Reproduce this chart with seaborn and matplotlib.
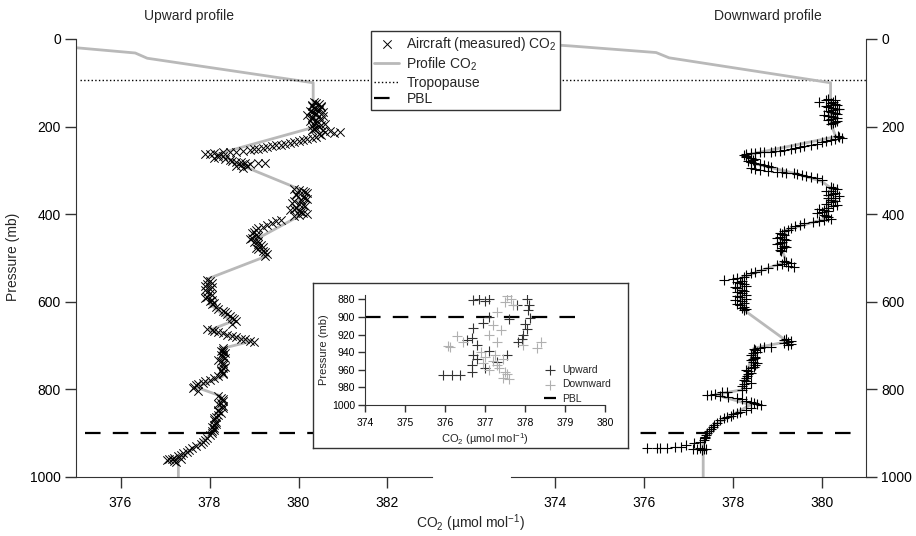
## Aircraft CO2 profiles: upward and downward legs with PBL inset

import numpy as np
import seaborn as sns
import matplotlib.pyplot as plt

## Data
# upward leg, measured CO2 (x markers)
up_co2 = [380.35, 380.45, 380.3, 380.5, 380.4, 380.25, 380.55, 380.35, 380.2, 380.45, 380.3, 380.5,
          380.25, 380.4, 380.6, 380.3, 380.45, 380.35, 380.55, 380.7, 380.93, 380.8,
          380.5, 380.3, 380.1, 379.9, 379.7, 379.5, 379.3, 379.1, 378.9, 378.6, 378.3, 378.1, 377.9, 378.2,
          378.3, 378.1, 378.45, 378.6, 378.8, 379.1, 379.25, 378.7, 378.85, 378.75,
          379.9, 380.1, 380.2, 379.95, 380.15, 380.05, 379.85, 380.1, 379.95, 379.8, 380.05, 380.2, 379.9,
          379.6, 379.4, 379.2, 379.05, 378.95, 379.1, 378.9, 379.0, 379.15, 379.05, 379.2, 379.3, 379.25,
          377.95, 378.05, 377.9, 378.0, 377.95, 378.05, 377.9, 378.0, 378.05, 378.15, 378.3, 378.4, 378.5,
          378.6, 378.5, 377.95, 378.1, 378.3, 378.5, 378.7, 378.9, 379.0,
          378.3, 378.25, 378.35, 378.3, 378.2, 378.3, 378.35, 378.25, 378.3, 378.2, 378.0, 377.85, 377.7,
          377.63, 377.75, 378.2, 378.3, 378.25, 378.3, 378.2, 378.25, 378.15, 378.1, 378.15, 378.05, 378.1,
          378.05, 377.95, 377.85, 377.7, 377.55, 377.4, 377.3, 377.15, 377.05, 377.25, 377.35]
up_p = [145, 148, 152, 156, 160, 164, 167, 170, 174, 177, 181, 184,
        188, 191, 194, 198, 201, 205, 208, 211, 212, 215,
        220, 226, 231, 235, 239, 243, 247, 251, 254, 257, 259, 261, 262, 264,
        268, 272, 276, 280, 284, 283, 284, 288, 291, 295,
        342, 346, 352, 357, 362, 368, 374, 379, 385, 390, 395, 400, 405,
        413, 420, 429, 436, 443, 450, 457, 464, 471, 477, 484, 490, 495,
        550, 556, 563, 570, 578, 585, 592, 598, 605, 612, 620, 628, 636,
        645, 650, 662, 666, 672, 678, 684, 689, 692,
        706, 712, 718, 725, 732, 740, 748, 755, 763, 770, 779, 785, 791,
        797, 803, 816, 822, 830, 838, 846, 854, 862, 870, 878, 886, 893,
        900, 910, 920, 930, 938, 946, 953, 958, 962, 965, 960]
# second pass of the same leg (denser parts of the cloud)
up_co2_b = [380.4, 380.3, 380.5, 380.35, 380.45, 380.3, 380.4, 380.55, 380.3, 380.4, 380.35, 380.5,
            380.4, 380.3, 380.6, 380.45,
            380.4, 380.2, 380.0, 379.8, 379.6, 379.4, 379.2, 379.0, 378.75, 378.45, 378.0,
            378.2, 378.35, 378.5, 378.7, 378.9, 378.6,
            380.0, 380.15, 379.95, 380.1, 380.2, 379.9, 380.0, 380.15, 379.9, 380.0, 380.1, 380.0,
            379.5, 379.3, 379.1, 379.0, 379.05, 378.95, 379.1, 379.1, 379.2, 379.1, 379.25,
            378.0, 377.95, 378.05, 377.9, 378.0, 377.95, 378.05, 378.1, 378.2, 378.35, 378.45, 378.55,
            378.05, 378.2, 378.4, 378.6, 378.8,
            378.3, 378.3, 378.25, 378.35, 378.25, 378.3, 378.3, 378.25, 378.3, 378.1, 377.9, 377.75, 377.65,
            378.25, 378.3, 378.2, 378.3, 378.2, 378.2, 378.1, 378.15, 378.1, 378.1, 378.05, 378.0, 377.9,
            377.8, 377.6, 377.5, 377.35, 377.2, 377.1, 377.2]
up_p_b = [146, 150, 153, 158, 163, 166, 172, 175, 179, 186, 193, 196,
          203, 207, 213, 217,
          223, 228, 233, 237, 241, 245, 249, 252, 256, 258, 263,
          270, 274, 278, 282, 286, 290,
          344, 349, 354, 360, 365, 371, 376, 382, 388, 392, 398, 403,
          416, 425, 432, 440, 447, 454, 461, 468, 474, 480, 487,
          553, 560, 567, 574, 581, 589, 595, 602, 616, 624, 632, 640,
          664, 669, 675, 681, 686,
          709, 715, 721, 728, 736, 744, 751, 759, 766, 775, 782, 788, 794,
          819, 826, 834, 842, 850, 858, 866, 874, 882, 889, 896, 905, 915,
          925, 934, 942, 950, 956, 960, 963]

# downward leg, measured CO2 (+ markers)
down_co2 = [379.95, 380.15, 380.3, 380.2, 380.35, 380.1, 380.25, 380.4, 380.15, 380.3, 380.05, 380.2,
            380.35, 380.15, 380.3, 380.2,
            380.36, 380.45, 380.2, 380.0, 379.76, 379.5, 379.3, 379.05, 378.85, 378.6, 378.4, 378.25,
            378.3, 378.5, 378.35, 378.47, 378.7, 378.85, 378.4, 378.6, 379.0, 379.2, 379.37, 379.55,
            379.76, 380.0,
            380.2, 380.35, 380.1, 380.25, 380.4, 380.15, 380.3, 380.1, 380.25,
            379.95, 380.15, 379.9, 380.1, 380.2, 379.95, 379.6, 379.4, 379.23, 379.05, 379.15, 379.0,
            379.2, 379.05, 379.15, 379.1, 379.08,
            379.15, 379.3, 379.0, 379.37, 378.63, 378.4, 378.25, 378.0, 377.8,
            378.1, 378.25, 378.05, 378.2, 378.1, 378.3, 378.15, 378.05, 378.25, 378.15, 378.2, 378.25,
            379.2, 379.3, 379.15, 379.25,
            378.85, 378.6, 378.47, 378.55, 378.4, 378.5, 378.4, 378.55, 378.47, 378.3, 378.4, 378.32,
            378.25, 378.4, 378.2, 378.2,
            377.87, 377.6, 377.42, 377.7, 378.1, 378.3, 378.47, 378.63, 378.4, 378.17, 378.0, 377.87,
            377.7, 377.57, 377.5, 377.42, 377.38, 377.34, 377.12, 376.82, 376.52, 376.07, 376.3, 377.1,
            377.25, 377.4, 377.3]
down_p = [143, 137, 140, 146, 150, 153, 157, 161, 165, 169, 173, 177,
          181, 185, 189, 193,
          222, 226, 231, 236, 242, 247, 252, 255, 257, 259, 261, 265,
          269, 274, 279, 284, 288, 292, 295, 299, 303, 305, 306, 310,
          314, 322,
          338, 343, 348, 354, 359, 364, 370, 376, 382,
          388, 393, 398, 404, 410, 416, 421, 428, 436, 442, 448, 454,
          460, 466, 472, 478, 484,
          508, 512, 516, 520, 527, 535, 543, 547, 550,
          555, 560, 566, 572, 578, 584, 590, 596, 602, 608, 614, 619,
          686, 690, 694, 698,
          703, 705, 708, 715, 722, 728, 734, 740, 748, 755, 762, 770,
          778, 785, 792, 801,
          805, 810, 813, 815, 820, 826, 832, 836, 843, 851, 857, 862,
          871, 881, 890, 900, 908, 915, 923, 931, 934, 934, 933, 936,
          934, 937, 938]
down_co2_b = [380.1, 380.25, 380.3, 380.2, 380.15, 380.35, 380.25, 380.2, 380.35, 380.15, 380.25, 380.2,
              380.35, 380.25,
              380.4, 380.3, 380.1, 379.9, 379.6, 379.4, 379.15, 378.95, 378.7, 378.5, 378.3, 378.3,
              378.4, 378.45, 378.4, 378.6, 378.8, 378.5, 378.8, 379.1, 379.45, 379.65, 379.9,
              380.25, 380.2, 380.3, 380.15, 380.3, 380.2, 380.2, 380.35, 380.15,
              380.05, 380.0, 380.05, 380.15, 380.05, 379.8, 379.5, 379.3, 379.15, 379.1, 379.05, 379.15,
              379.1, 379.0, 379.2, 379.05,
              379.2, 379.1, 379.25, 378.8, 378.5, 378.3, 378.1,
              378.2, 378.15, 378.3, 378.1, 378.25, 378.2, 378.1, 378.3, 378.2, 378.1, 378.25, 378.3,
              379.15, 379.25, 379.3,
              378.7, 378.5, 378.45, 378.5, 378.45, 378.45, 378.5, 378.4, 378.35, 378.35, 378.3, 378.3,
              378.25, 378.3,
              377.75, 377.5, 377.9, 378.2, 378.4, 378.55, 378.3, 378.1, 377.95, 377.8, 377.65, 377.55,
              377.45, 377.4, 377.36, 377.25, 376.95, 376.7, 376.35, 377.2, 377.35]
down_p_b = [139, 143, 148, 151, 156, 159, 163, 167, 171, 175, 179, 183,
            187, 191,
            224, 229, 233, 239, 245, 250, 254, 256, 258, 260, 263, 267,
            272, 277, 282, 286, 290, 297, 301, 304, 308, 312, 318,
            340, 346, 351, 356, 362, 367, 373, 379, 385,
            390, 396, 401, 407, 413, 419, 424, 432, 439, 445, 451, 457,
            463, 469, 475, 481,
            510, 514, 518, 524, 531, 539, 545,
            552, 558, 563, 569, 575, 581, 587, 593, 599, 605, 611, 616,
            688, 692, 696,
            704, 711, 718, 725, 731, 737, 744, 751, 758, 766, 774, 781,
            788, 796,
            807, 812, 817, 823, 829, 834, 847, 854, 860, 866, 876, 885,
            895, 904, 912, 920, 927, 932, 934, 935, 936]

# profile CO2 (grey line)
up_prof_co2 = [372.0, 374.3, 375.0, 376.33, 376.6, 380.33, 380.33, 380.4, 378.2, 378.8, 380.0, 380.0,
               379.0, 379.3, 377.95, 378.0, 378.5, 378.0, 378.95, 378.3, 378.3, 377.7, 378.25, 378.2,
               378.05, 377.6, 377.3, 377.3]
up_prof_p = [0, 16, 20, 32, 44, 100, 150, 200, 262, 292, 342, 405,
             460, 495, 548, 605, 645, 665, 690, 706, 770, 795, 815, 860,
             900, 938, 960, 1000]
down_prof_co2 = [372.0, 374.35, 376.27, 376.56, 380.2, 380.2, 380.2, 380.32, 378.3, 378.5, 379.4, 380.0,
                 380.2, 380.1, 379.2, 379.1, 379.2, 378.2, 378.15, 378.25, 379.23, 378.47, 378.3, 378.2,
                 377.6, 378.4, 377.6, 377.33, 377.33]
down_prof_p = [0, 16, 31, 43, 100, 140, 193, 223, 265, 285, 307, 325,
               340, 410, 436, 480, 508, 545, 585, 619, 691, 706, 770, 801,
               812, 835, 880, 918, 1000]

# inset: lowest part of both legs
ins_up_co2 = [376.7, 376.85, 377.0, 377.1, 378.04, 378.1, 378.08, 378.12, 378.0, 378.06, 377.95, 377.92,
              377.83, 377.8, 377.6, 377.1, 376.95, 376.7, 376.67, 376.79, 376.7, 376.67, 376.67, 377.29,
              377.54, 377.1, 375.96, 376.17, 376.38, 376.54, 376.8, 377.0]
ins_up_p = [881, 880, 882, 880, 879, 886, 892, 901, 908, 914, 920, 925,
            928, 886, 902, 900, 907, 913, 924, 932, 943, 955, 962, 951,
            943, 939, 966, 966, 966, 926, 948, 958]
ins_down_co2 = [377.55, 377.65, 377.7, 377.5, 377.29, 377.2, 377.1, 377.29, 377.4, 376.12, 376.45, 376.3,
                376.08, 377.95, 378.29, 378.4, 376.9, 377.0, 377.2, 377.3, 377.45, 377.1, 376.95, 377.35,
                377.5, 377.25, 377.45, 377.6, 377.55]
ins_down_p = [876, 880, 886, 883, 894, 909, 920, 928, 915, 934, 928, 922,
              933, 932, 935, 928, 940, 946, 950, 955, 948, 960, 952, 958,
              962, 943, 969, 970, 965]

trop_p = 93.6
pbl_p = 900

## Style
sns.set_style('ticks')
plt.rcParams['font.family'] = ['Liberation Sans', 'DejaVu Sans']
plt.rcParams['mathtext.fontset'] = 'custom'
plt.rcParams['mathtext.rm'] = 'Liberation Sans'
plt.rcParams['mathtext.default'] = 'regular'
plt.rcParams['axes.edgecolor'] = '#333333'
plt.rcParams['xtick.color'] = '#333333'
plt.rcParams['ytick.color'] = '#333333'
plt.rcParams['xtick.labelcolor'] = 'black'
plt.rcParams['ytick.labelcolor'] = 'black'

grey = '#b9b9b9'
co2_lab = 'CO$_2$ (\u00b5mol mol$^{-1}$)'

fig = plt.figure(figsize=(9.16, 5.36), dpi=100)
ax1 = fig.add_axes([0.083, 0.1101, 0.3886, 0.8172])
ax2 = fig.add_axes([0.5579, 0.1101, 0.3876, 0.8172])

for ax in (ax1, ax2):
    ax.patch.set_visible(False)

## Upward panel
sns.lineplot(x=up_prof_co2, y=up_prof_p, sort=False, estimator=None, color=grey, lw=2, ax=ax1)
sns.scatterplot(x=up_co2 + up_co2_b, y=up_p + up_p_b, marker='x', color='black', s=36,
                linewidth=0.7, ax=ax1, zorder=3)

## Downward panel
sns.lineplot(x=down_prof_co2, y=down_prof_p, sort=False, estimator=None, color=grey, lw=2, ax=ax2)
sns.scatterplot(x=down_co2 + down_co2_b, y=down_p + down_p_b, marker='+', color='black', s=45,
                linewidth=0.8, ax=ax2, zorder=3)

# horizontal lines run across both panels
trop = ax1.axhline(trop_p, xmin=0.012, xmax=2.219, ls=':', color='black', lw=1, clip_on=False)
pbl = ax1.axhline(pbl_p, xmin=0.025, xmax=2.202, color='black', lw=1.6, dashes=(7, 5.5), clip_on=False)

ax1.set_xlim(375, 383)
ax2.set_xlim(373, 381)
for ax in (ax1, ax2):
    ax.set_ylim(1000, 0)
    ax.set_yticks(np.arange(0, 1001, 200))
    ax.tick_params(length=8, width=1, labelsize=10)
    ax.tick_params(axis='x', pad=5.5)
    ax.tick_params(axis='y', pad=3)
    ax.set_xlabel('')
    ax.set_ylabel('')
ax1.set_xticks([376, 378, 380, 382])
ax2.set_xticks([374, 376, 378, 380])
sns.despine(ax=ax1)
sns.despine(ax=ax2, left=True, right=False)
ax2.yaxis.tick_right()

fig.text(0.2063, 0.970, 'Upward profile', ha='center', va='center', fontsize=10)
fig.text(0.8384, 0.970, 'Downward profile', ha='center', va='center', fontsize=10)
fig.text(0.014, 0.52, 'Pressure (mb)', rotation=90, ha='center', va='center', fontsize=10)
fig.text(0.514, 0.024, co2_lab, ha='center', va='center', fontsize=10)

## Main legend
handles = [ax1.collections[0], ax1.lines[0], trop, pbl]
labels = ['Aircraft (measured) CO$_2$', 'Profile CO$_2$', 'Tropopause', 'PBL']
leg = fig.legend(handles, labels, loc='upper left', bbox_to_anchor=(0.405, 0.942),
                 fontsize=10, frameon=True, fancybox=False, edgecolor='#333333', framealpha=1,
                 borderpad=0.25, labelspacing=0.2, handlelength=1.8, handletextpad=0.5,
                 borderaxespad=0)
leg.get_frame().set_linewidth(1)

## Inset box and axes
box = fig.add_axes([313 / 916, 88 / 536, 315 / 916, 165 / 536])
box.set_xticks([])
box.set_yticks([])
for s in box.spines.values():
    s.set_color('#333333')
    s.set_linewidth(1)

inax = fig.add_axes([365 / 916, 131 / 536, 240 / 916, 110 / 536])
inax.patch.set_visible(False)
sns.scatterplot(x=ins_up_co2, y=ins_up_p, marker='+', color='#333333', s=55, linewidth=0.8,
                ax=inax, zorder=3, label='Upward')
sns.scatterplot(x=ins_down_co2, y=ins_down_p, marker='+', color='#b0b0b0', s=55, linewidth=0.8,
                ax=inax, zorder=3, label='Downward')
ipbl = inax.axhline(pbl_p, xmin=0, xmax=0.92, color='black', lw=1.6, dashes=(7, 5.5), label='PBL')
inax.set_xlim(374, 380)
inax.set_ylim(1000, 875)
inax.set_xticks(np.arange(374, 381, 1))
inax.set_yticks(np.arange(880, 1001, 20))
inax.tick_params(length=5, width=1, labelsize=7.5)
inax.tick_params(axis='x', pad=4)
inax.tick_params(axis='y', pad=2)
inax.set_xlabel(co2_lab, fontsize=8, labelpad=2.5)
inax.set_ylabel('Pressure (mb)', fontsize=8, labelpad=2)
sns.despine(ax=inax)
inax.legend(loc='lower right', bbox_to_anchor=(1.03, 0.0), frameon=False, fontsize=7.5,
            handlelength=1.2, handletextpad=0.6, labelspacing=0.45, borderpad=0.1,
            borderaxespad=0)

fig.savefig('out.png', dpi=100)
